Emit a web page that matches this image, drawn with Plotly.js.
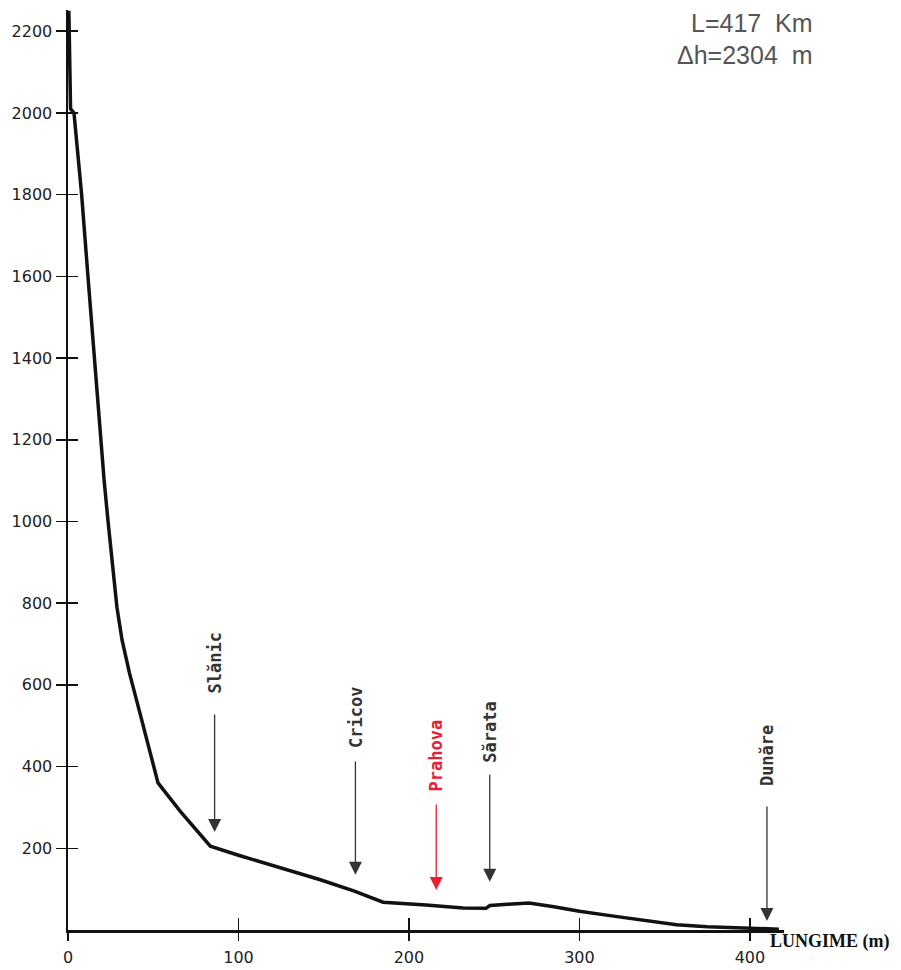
<!DOCTYPE html>
<html>
<head>
<meta charset="utf-8">
<script src="https://cdn.plot.ly/plotly-3.0.1.min.js"></script>
<style>html,body{margin:0;padding:0;background:#fff;}#chart{width:901px;height:970px;}</style>
</head>
<body>
<div id="chart"></div>
<script>
// River longitudinal profile (length in km, altitude in m)
const profileKm  = [0.5, 1.5, 3.5, 8, 11.7, 15.5, 18.8, 21.2, 23.5, 24.6, 26.4, 28.7, 31.7, 36, 42.2, 52.8, 66, 83.5, 100, 124, 148, 168, 184.8, 210, 231.7, 245.2, 247.5, 258, 270.5, 285, 300, 320, 340, 357, 375, 394, 417];
const profileAlt = [2250, 2010, 2000, 1800, 1600, 1400, 1200, 1100, 1000, 955, 874, 790, 710, 630, 531, 360, 290, 205, 183, 153, 123, 95, 68, 61, 54, 53, 60, 63, 66, 57, 46, 34, 22, 13, 8, 5, 2];

const tributaries  = ["Slănic", "Cricov", "Prahova", "Sărata", "Dunăre"];
const tribKm       = [86, 168.6, 216, 247.4, 410];
const tribLabelAlt = [654, 520, 428, 485, 428];
const tribTopAlt   = [531, 416, 311, 384, 306];
const tribTipAlt   = [240, 135, 98, 118, 22];
const tribColor    = ["#333", "#333", "#e8202f", "#333", "#333"];

const yTicks = [200, 400, 600, 800, 1000, 1200, 1400, 1600, 1800, 2000, 2200];
const xTicks = [0, 100, 200, 300, 400];

const infoLines = ["L=417  Km", "Δh=2304  m"];
const xLabel = "LUNGIME (m)";

const traces = [{
  x: profileKm, y: profileAlt, type: 'scatter', mode: 'lines',
  line: {color: '#111', width: 3.5}, cliponaxis: false, hoverinfo: 'skip', showlegend: false
}, {
  x: [0], y: [0], xaxis: 'x2', yaxis: 'y2', type: 'scatter', mode: 'markers',
  marker: {opacity: 0}, showlegend: false, hoverinfo: 'skip'
}];

const annotations = [];
tributaries.forEach((name, i) => {
  annotations.push({
    x: tribKm[i], y: tribLabelAlt[i], xref: 'x', yref: 'y', text: name,
    textangle: -90, showarrow: false,
    font: {family: 'DejaVu Sans Mono', size: 17, color: tribColor[i], weight: 'bold'}
  });
  annotations.push({
    x: tribKm[i], y: tribTipAlt[i], ax: tribKm[i], ay: tribTopAlt[i],
    xref: 'x', yref: 'y', axref: 'x', ayref: 'y', text: '',
    showarrow: true, arrowhead: 2, arrowsize: 2, arrowwidth: 1.3,
    arrowcolor: tribColor[i]
  });
});
annotations.push({
  xref: 'paper', yref: 'paper', x: 1.043, y: 0.986, xanchor: 'right', yanchor: 'middle',
  text: infoLines[0], showarrow: false,
  font: {family: 'Liberation Sans', size: 25, color: '#555'}
});
annotations.push({
  xref: 'paper', yref: 'paper', x: 1.043, y: 0.951, xanchor: 'right', yanchor: 'middle',
  text: infoLines[1], showarrow: false,
  font: {family: 'Liberation Sans', size: 25, color: '#555'}
});
annotations.push({
  xref: 'paper', yref: 'paper', x: 0.977, y: -0.013, xanchor: 'left', yanchor: 'middle',
  text: xLabel, showarrow: false,
  font: {family: 'Liberation Serif', size: 18, color: '#111', weight: 'bold'}
});

const tickFont = {family: 'DejaVu Sans', size: 16, color: '#222'};
const layout = {
  width: 901, height: 970,
  margin: {l: 68, r: 117, t: 10, b: 40},
  paper_bgcolor: '#fff', plot_bgcolor: '#fff',
  showlegend: false,
  xaxis: {
    range: [0, 420], showgrid: false, zeroline: false,
    showline: true, linecolor: '#111', linewidth: 2.5,
    tickmode: 'array', tickvals: xTicks, ticktext: xTicks.map(String),
    ticks: 'outside', ticklen: 8, tickwidth: 1.5, tickcolor: '#111',
    ticklabelstandoff: 3,
    tickfont: tickFont
  },
  yaxis: {
    range: [0, 2252], showgrid: false, zeroline: false,
    showline: true, linecolor: '#111', linewidth: 2.5,
    tickmode: 'array', tickvals: yTicks, ticktext: yTicks.map(String),
    ticks: 'outside', ticklen: 10, tickwidth: 1.5, tickcolor: '#111',
    tickfont: tickFont
  },
  xaxis2: {
    overlaying: 'x', range: [0, 420], showgrid: false, zeroline: false, showline: false,
    tickmode: 'array', tickvals: xTicks.slice(1), ticks: 'inside', ticklen: 12, tickwidth: 1.5,
    tickcolor: '#111', showticklabels: false
  },
  yaxis2: {
    overlaying: 'y', range: [0, 2252], showgrid: false, zeroline: false, showline: false,
    tickmode: 'array', tickvals: yTicks, ticks: 'inside', ticklen: 10, tickwidth: 1.5,
    tickcolor: '#111', showticklabels: false
  },
  annotations: annotations
};

Plotly.newPlot('chart', traces, layout, {displayModeBar: false, staticPlot: true});
</script>
</body>
</html>
